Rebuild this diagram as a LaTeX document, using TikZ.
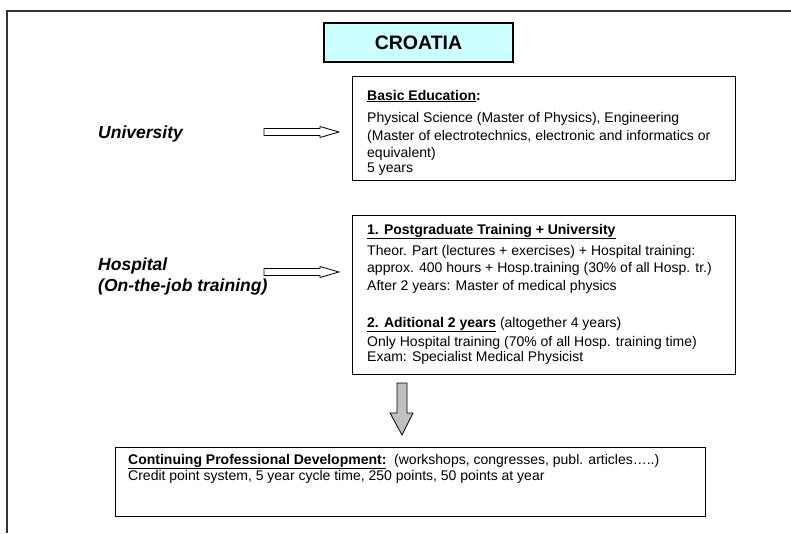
\documentclass[tikz,border=0pt]{standalone}
\usepackage{fontspec}
\setmainfont{Liberation Sans}
\definecolor{croat}{HTML}{CCFFFF}
\definecolor{arrgray}{HTML}{C0C0C0}
\begin{document}
\begin{tikzpicture}[x=1pt,y=-1pt,
  box/.style={draw=black, line width=1.1pt, inner sep=0pt, anchor=north west},
  txt/.style={anchor=base west, inner sep=0pt, font=\fontsize{14}{17}\selectfont},
  lab/.style={anchor=base west, inner sep=0pt, font=\fontsize{17.5}{20}\selectfont\bfseries\itshape},
  warrow/.style={draw=black, line width=0.8pt, fill=white, line join=miter},
  garrow/.style={draw=black, line width=0.8pt, fill=arrgray, line join=miter},
  frame/.style={draw=black!80, line width=1.3pt}]
\useasboundingbox (0,0) rectangle (791,533);
% outer frame
\coordinate (fbl) at (7,533);
\coordinate (ftl) at (7,11);
\coordinate (ftr) at (791,11);
\draw[frame] (fbl) -- (ftl) -- (ftr);
% title
\node[draw=black, line width=1.1pt, fill=croat, minimum width=189, minimum height=39, inner sep=0pt,
  font=\fontsize{19.5}{22}\selectfont\bfseries] (title) at (418.5,42.5) {CROATIA};
% boxes
\node[box, minimum width=383, minimum height=104] (b1) at (352,76) {};
\node[box, minimum width=383, minimum height=159] (b2) at (352,215) {};
\node[box, minimum width=590, minimum height=69] (b3) at (115,447) {};
% box 1 text
\node[txt] (b1a) at (367,100) {\bfseries\underline{Basic Education}:};
\node[txt] (b1b) at (367,122) {Physical Science (Master of Physics), Engineering};
\node[txt] (b1c) at (367,140) {(Master of electrotechnics, electronic and informatics or};
\node[txt] (b1d) at (367,157) {equivalent)};
\node[txt] (b1e) at (367,172) {5 years};
% box 2 text
\node[txt] (b2a) at (367,234) {\bfseries\underline{1. Postgraduate Training + University}};
\node[txt] (b2b) at (367,255) {Theor. Part (lectures + exercises) + Hospital training:};
\node[txt] (b2c) at (367,272) {approx. 400 hours + Hosp.training (30\% of all Hosp. tr.)};
\node[txt] (b2d) at (367,290) {After 2 years: Master of medical physics};
\node[txt] (b2e) at (367,327) {\textbf{\underline{2. Aditional 2 years}} (altogether 4 years)};
\node[txt] (b2f) at (367,346) {Only Hospital training (70\% of all Hosp. training time)};
\node[txt] (b2g) at (367,361) {Exam: Specialist Medical Physicist};
% box 3 text
\node[txt] (b3a) at (128,464) {\textbf{\underline{Continuing Professional Development:}}\ \ (workshops, congresses, publ. articles…..)};
\node[txt] (b3b) at (128,480) {Credit point system, 5 year cycle time, 250 points, 50 points at year};
% left labels
\node[lab] (uni) at (98,138) {University};
\node[lab] (hos) at (98,270) {Hospital};
\node[lab] (ojt) at (98,291) {(On-the-job training)};
% white arrows (label -> box)
\coordinate (ua) at (264,132);
\coordinate (ha) at (264,272);
\foreach \s in {ua,ha}{
  \draw[warrow] (\s) ++(0,-3.5) -- ++(56,0) -- ++(0,-2) -- ++(19,5.5) -- ++(-19,5.5) -- ++(0,-2) -- ++(-56,0) -- cycle;
}
% gray arrow (box 2 -> box 3)
\coordinate (ga) at (402,383);
\draw[garrow] (ga) ++(-5,0) -- ++(10,0) -- ++(0,30) -- ++(6,0) -- ++(-11,22) -- ++(-12,-22) -- ++(7,0) -- cycle;
\end{tikzpicture}
\end{document}
